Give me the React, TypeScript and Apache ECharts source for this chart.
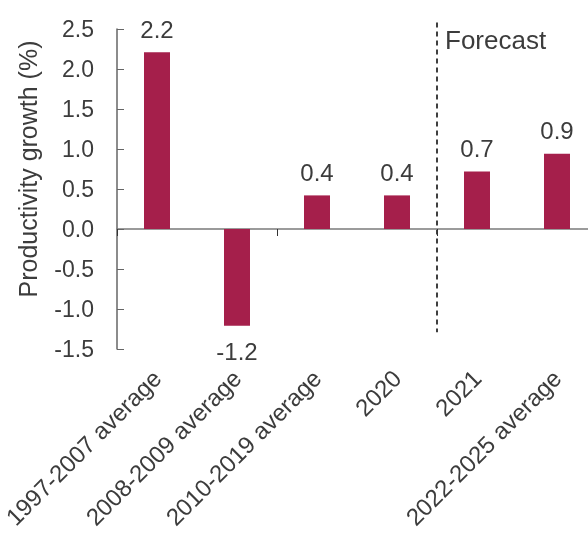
import React, { useEffect, useRef } from "react";
import * as echarts from "echarts";

const categories = [
  "1997-2007 average",
  "2008-2009 average",
  "2010-2019 average",
  "2020",
  "2021",
  "2022-2025 average",
];
const growth = [2.21, -1.21, 0.42, 0.42, 0.72, 0.94];
const yTicks = { min: -1.5, max: 2.5, interval: 0.5 };
const forecastLabel = "Forecast";
const forecastAfter = "2020";
const forecastStart = "2021";

const FONT = "'Liberation Sans', Arial, sans-serif";
const TEXT = "#3c3c3c";
const BAR = "#a51f4b";

export default function App() {
  const ref = useRef<HTMLDivElement>(null);
  useEffect(() => {
    if (!ref.current) return;
    const chart = echarts.init(ref.current, undefined, { renderer: "svg" });
    chart.setOption({
      animation: false,
      textStyle: { fontFamily: FONT },
      grid: {
        left: 117,
        right: -9,
        top: 29,
        bottom: 189,
        containLabel: false,
        outerBoundsMode: "none",
      },
      xAxis: [
        {
          type: "category",
          data: categories,
          axisLine: { show: true, onZero: true, lineStyle: { color: "#7a7a7a", width: 1.5 } },
          axisTick: { show: true, inside: false, length: 7, lineStyle: { color: "#333" } },
          axisLabel: { show: false },
        },
        {
          type: "category",
          data: categories,
          position: "bottom",
          axisLine: { show: false, onZero: false },
          axisTick: { show: false },
          axisLabel: {
            show: true,
            rotate: 45,
            interval: 0,
            margin: 25,
            fontSize: 24,
            color: TEXT,
            fontFamily: FONT,
          },
        },
      ],
      yAxis: {
        type: "value",
        min: yTicks.min,
        max: yTicks.max,
        interval: yTicks.interval,
        name: "Productivity growth (%)",
        nameLocation: "middle",
        nameGap: 77,
        nameTextStyle: {
          fontSize: 25,
          color: TEXT,
          fontFamily: FONT,
          padding: [0, 0, 0, 40],
        },
        splitLine: { show: false },
        axisLine: { show: true, lineStyle: { color: "#666", width: 1.5 } },
        axisTick: { show: true, inside: true, length: 7, lineStyle: { color: "#666" } },
        axisLabel: {
          margin: 23,
          fontSize: 23,
          color: TEXT,
          fontFamily: FONT,
          formatter: (v: number) => v.toFixed(1),
        },
      },
      series: [
        {
          type: "bar",
          data: growth.map((v) =>
            v < 0 ? { value: v, label: { position: "bottom", distance: 14 } } : v
          ),
          barWidth: 26,
          itemStyle: { color: BAR },
          label: {
            show: true,
            position: "top",
            distance: 11,
            fontSize: 24,
            color: TEXT,
            fontFamily: FONT,
            formatter: (p: any) => (p.value as number).toFixed(1),
          },
        },
      ],
    });
    const a = chart.convertToPixel({ xAxisIndex: 0 }, forecastAfter) as number;
    const b = chart.convertToPixel({ xAxisIndex: 0 }, forecastStart) as number;
    const x = (a + b) / 2;
    const yTop = chart.convertToPixel({ yAxisIndex: 0 }, 2.58) as number;
    const yBot = chart.convertToPixel({ yAxisIndex: 0 }, -1.29) as number;
    chart.setOption({
      graphic: [
        {
          type: "line",
          shape: { x1: x, y1: yTop, x2: x, y2: yBot },
          style: { stroke: "#000", lineWidth: 1.5, lineDash: [5, 4] },
          silent: true,
        },
        {
          type: "text",
          x: x + 8,
          y: 40,
          style: {
            text: forecastLabel,
            fontSize: 26,
            fontFamily: FONT,
            fill: TEXT,
            verticalAlign: "middle",
            align: "left",
          },
        },
      ],
    });
    return () => chart.dispose();
  }, []);
  return (
    <div
      ref={ref}
      style={{ position: "fixed", left: 0, top: 0, width: 588, height: 538 }}
    />
  );
}
